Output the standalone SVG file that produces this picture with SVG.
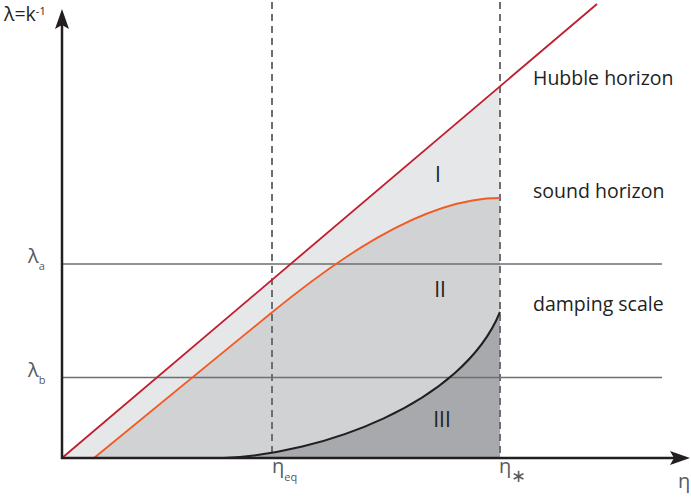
<svg xmlns="http://www.w3.org/2000/svg" width="691" height="499" viewBox="0 0 691 499">
<style>
text{font-family:"Open Sans","Liberation Sans",sans-serif;fill:#231f20}
.lbl{font-size:19.5px}
.num{font-size:21px;text-anchor:middle}
.g{fill:#58595b}
.sub{font-size:11px}
.hl{stroke:#6d6e71;stroke-width:1.6;fill:none}
.dl{stroke:#6d6e71;stroke-width:2;stroke-dasharray:7,5;fill:none}
.ax{stroke:#231f20;stroke-width:2.5;fill:none}
</style>
<defs>
<marker id="arr" markerUnits="userSpaceOnUse" markerWidth="20" markerHeight="14" viewBox="0 0 20 14" refX="12" refY="7" orient="auto">
<path d="M0,0 L20,7 L0,14 L4,7 Z" fill="#231f20"/>
</marker>
</defs>
<g id="regions">
<path id="region-I" d="M62,458 L500,86.3 L500,198 C420,198 330,265 270,314 L94,458 Z" fill="#e6e7e8"/>
<path id="region-II" d="M94,458 L270,314 C330,265 420,198 500,198 L500,312 C462,405 320,454 224,458 Z" fill="#d1d2d4"/>
<path id="region-III" d="M224,458 C320,454 462,405 500,312 L500,458 Z" fill="#a7a9ac"/>
</g>
<g id="connectors">
<line class="hl" x1="62" y1="264" x2="662" y2="264"/>
<line class="hl" x1="62" y1="377.5" x2="662" y2="377.5"/>
<line class="dl" x1="272" y1="2" x2="272" y2="458"/>
<line class="dl" x1="500" y1="2" x2="500" y2="458"/>
<path id="hubble" d="M62,458 L597,4" stroke="#be1e2d" stroke-width="1.8" fill="none"/>
<path id="sound" d="M94,458 L270,314 C330,265 420,198 500,198" stroke="#f15a24" stroke-width="1.8" fill="none"/>
<path id="damping" d="M224,458 C320,454 462,405 500,312" stroke="#231f20" stroke-width="2" fill="none"/>
<line class="ax" x1="62" y1="459" x2="62" y2="17" marker-end="url(#arr)"/>
<line class="ax" x1="61" y1="458" x2="682" y2="458" marker-end="url(#arr)"/>
</g>
<g id="labels">
<text x="4" y="21" font-size="19.5">λ=k<tspan font-size="11" dy="-6">-1</tspan></text>
<text class="lbl" x="533" y="85">Hubble horizon</text>
<text class="lbl" x="533" y="198">sound horizon</text>
<text class="lbl" x="533" y="311">damping scale</text>
<text class="num" x="438" y="182">I</text>
<text class="num" x="440" y="297">II</text>
<text class="num" x="442" y="427">III</text>
<text class="g" x="28" y="263" font-size="20">λ<tspan class="sub" dy="7">a</tspan></text>
<text class="g" x="28" y="377" font-size="20">λ<tspan class="sub" dy="7">b</tspan></text>
<text class="g" x="272" y="473" font-size="20">η<tspan class="sub" dy="8">eq</tspan></text>
<text class="g" x="499" y="473" font-size="20">η<tspan font-size="18" dy="9">∗</tspan></text>
<text class="g" x="678" y="488" font-size="20">η</text>
</g>
</svg>
